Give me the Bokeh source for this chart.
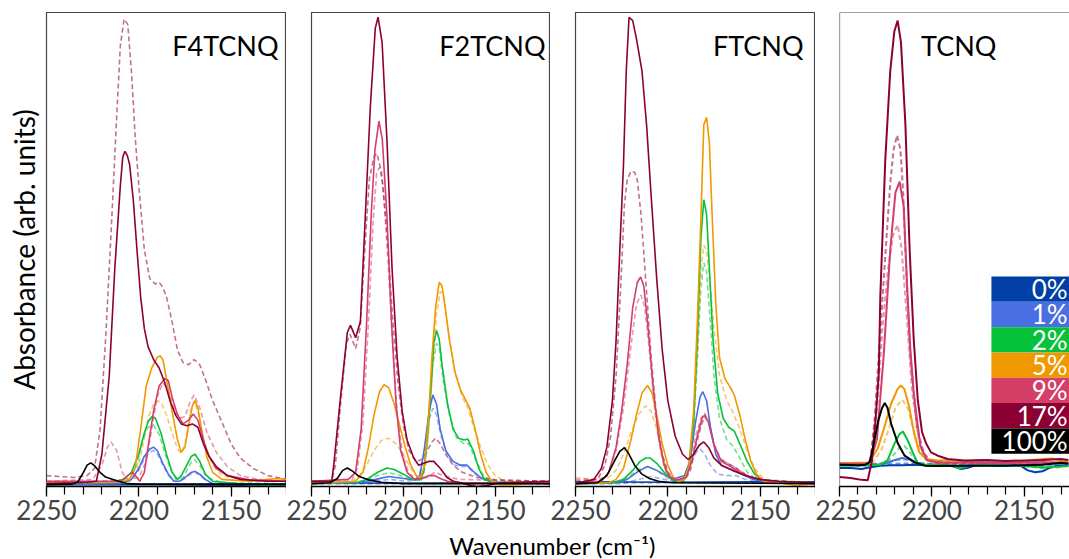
from bokeh.plotting import figure
from bokeh.models import Range1d, FixedTicker, Label, Span
from bokeh.layouts import row, column
from bokeh.embed import file_html
from bokeh.resources import INLINE

# ---------------- data (wavenumber cm-1, absorbance in arb. units) ----------------
panel_names = ["F4TCNQ", "F2TCNQ", "FTCNQ", "TCNQ"]
levels = ["0%", "1%", "2%", "5%", "9%", "17%", "100%"]
level_colors = ["#003fa5", "#4a6fe2", "#06c23a", "#f09800", "#d43f68", "#8c0034", "#000000"]
x_ticks = [2250, 2200, 2150]
x_minor = [2250, 2240, 2230, 2220, 2210, 2200, 2190, 2180, 2170, 2160, 2150, 2140, 2130, 2120]

# ---- F4TCNQ ----
f4_0 = [[2250, 0.4], [2200, 0.4], [2150, 0.3], [2120, 0.3]]
f4_0d = [[2250, 0.6], [2200, 0.5], [2150, 0.5], [2120, 0.5]]
f4_1 = [[2250, 0.4], [2210, 0.6], [2204, 1.5], [2200, 3.8], [2197, 6.4], [2194, 7.9], [2192, 8.3], [2190, 7.6],
        [2187, 4.9], [2184, 2.6], [2181, 1.1], [2178, 1.1], [2175, 1.9], [2172, 2.9], [2169.5, 3.2], [2167, 2.6],
        [2164, 1.5], [2160, 0.6], [2120, 0.4]]
f4_1d = [[2250, 0.5], [2210, 0.6], [2204, 1.4], [2200, 3.4], [2197, 5.9], [2194, 7.3], [2192, 7.6], [2190, 7.0],
         [2187, 4.5], [2184, 2.4], [2181, 1.1], [2178, 1.1], [2175, 1.7], [2172, 2.6], [2169.5, 2.9], [2167, 2.4],
         [2164, 1.4], [2160, 0.6], [2120, 0.5]]
f4_2 = [[2250, 0.8], [2215, 0.9], [2208, 1.5], [2204, 3.0], [2200, 6.8], [2197, 11.3], [2195, 13.6], [2193, 14.7],
        [2191, 14.4], [2188, 11.3], [2185, 6.8], [2182, 3.0], [2179, 1.5], [2177, 2.3], [2174, 4.5], [2171.5, 6.4],
        [2169.5, 6.8], [2167, 5.3], [2164, 2.6], [2160, 1.1], [2140, 0.4], [2120, 0.4]]
f4_2d = [[2250, 0.6], [2205, 1.5], [2201, 4.5], [2198, 9.8], [2195, 12.5], [2192, 12.9], [2189, 11.0], [2186, 7.2],
         [2183, 3.8], [2180, 1.5], [2176, 1.9], [2172, 4.9], [2170, 5.7], [2167, 4.5], [2163, 1.9], [2155, 0.8],
         [2120, 0.6]]
f4_5 = [[2250, 0.8], [2210, 0.9], [2205, 1.5], [2202, 3.8], [2199, 12.1], [2196, 21.2], [2193, 25.0], [2190, 27.2],
        [2188.5, 27.6], [2187, 26.8], [2185, 22.7], [2182, 15.9], [2179, 9.8], [2177, 7.2], [2175, 8.3], [2173, 12.8],
        [2171, 17.0], [2169.5, 18.1], [2168, 16.6], [2166, 12.1], [2163, 6.0], [2160, 3.0], [2155, 1.5], [2140, 1.1],
        [2130, 1.5], [2125, 1.7], [2120, 1.5]]
f4_5d = [[2250, 0.8], [2205, 1.1], [2201, 3.0], [2198, 8.3], [2195, 14.4], [2192, 17.4], [2190, 18.1], [2188, 17.8],
         [2185, 15.1], [2182, 11.3], [2179, 7.9], [2177, 7.0], [2175, 9.0], [2172, 15.9], [2170, 18.1], [2168, 15.9],
         [2165, 9.8], [2160, 4.5], [2155, 2.3], [2140, 1.1], [2120, 1.1]]
f4_9 = [[2250, 1.1], [2210, 1.1], [2206, 2.3], [2203.5, 3.0], [2201, 1.9], [2199.5, 1.1], [2197, 3.0], [2195, 8.3],
        [2192, 15.9], [2189, 21.2], [2186, 22.8], [2184, 22.3], [2182, 18.9], [2179, 15.1], [2176, 13.2], [2173, 14.0],
        [2170.5, 15.3], [2168, 14.0], [2165, 9.8], [2162, 6.4], [2158, 3.8], [2152, 2.3], [2140, 1.4], [2120, 1.1]]
f4_9d = [[2250, 1.1], [2225, 1.5], [2220, 4.5], [2217, 8.3], [2215, 9.4], [2212, 7.6], [2209, 3.0], [2206, 1.5],
         [2200, 1.9], [2196, 5.3], [2193, 12.1], [2190, 18.9], [2187, 21.9], [2184, 20.4], [2181, 16.6], [2178, 14.4],
         [2175, 14.7], [2172, 18.1], [2170, 19.3], [2167, 16.6], [2163, 11.3], [2158, 7.2], [2152, 4.2], [2145, 2.3],
         [2135, 1.5], [2120, 1.1]]
f4_17 = [[2250, 0.6], [2235, 0.8], [2228, 0.9], [2223, 1.1], [2220, 6.8], [2216, 23.4], [2213, 46.0], [2210, 63.5],
         [2208.7, 69.5], [2207.5, 70.7], [2206.2, 69.8], [2205, 68.0], [2203, 60.5], [2201, 50.0], [2199, 40.0],
         [2197, 33.3], [2195, 29.5], [2192, 26.8], [2189, 25.0], [2186, 22.0], [2183, 18.0], [2180, 15.0],
         [2177, 13.2], [2174, 12.8], [2171, 13.2], [2168, 12.5], [2165, 9.0], [2162, 6.4], [2158, 4.2], [2152, 2.3],
         [2145, 1.5], [2130, 1.1], [2120, 1.1]]
f4_17d = [[2250, 2.3], [2235, 1.9], [2228, 2.3], [2224, 3.8], [2221, 12.0], [2218, 31.0], [2215, 53.7], [2212, 77.9],
          [2210, 93.0], [2208, 98.6], [2206, 97.5], [2204, 87.7], [2202, 74.0], [2200, 63.5], [2197, 49.9],
          [2194, 43.8], [2191, 42.7], [2189, 43.1], [2187, 42.0], [2185, 40.0], [2182, 34.8], [2179, 28.7],
          [2176, 26.1], [2173, 25.7], [2170, 26.8], [2167, 25.7], [2164, 22.7], [2160, 18.1], [2155, 13.6],
          [2150, 9.0], [2145, 6.0], [2138, 3.8], [2130, 2.3], [2120, 1.5]]
f4_100 = [[2250, 0.4], [2236, 0.5], [2233, 1.0], [2230, 3.0], [2228, 4.5], [2226, 5.0], [2224, 4.4], [2221, 3.0],
          [2218, 2.0], [2214, 1.5], [2210, 1.0], [2206, 0.6], [2200, 0.5], [2150, 0.5], [2120, 0.5]]

# ---- F2TCNQ ----
f2_0 = [[2250, 0.8], [2200, 0.7], [2150, 0.8], [2120, 0.8]]
f2_0d = [[2250, 0.6], [2200, 0.6], [2150, 0.6], [2120, 0.6]]
f2_1 = [[2250, 0.6], [2225, 0.8], [2215, 1.5], [2208, 2.1], [2200, 1.7], [2194, 1.4], [2191, 2.3], [2188.5, 8.3],
        [2186, 15.9], [2184, 19.3], [2182, 17.4], [2180, 12.1], [2177, 7.6], [2173, 5.3], [2169, 4.5], [2165.5, 4.5],
        [2162, 3.2], [2158, 1.9], [2152, 0.9], [2120, 0.6]]
f2_1d = [[2250, 0.5], [2215, 1.1], [2208, 1.5], [2198, 1.1], [2192, 1.6], [2189, 6.0], [2186.5, 13.6], [2184, 16.5],
         [2182, 15.1], [2179.5, 10.6], [2176, 6.4], [2172, 4.5], [2168, 4.2], [2165, 4.2], [2161, 2.6], [2155, 1.1],
         [2120, 0.5]]
f2_2 = [[2250, 0.8], [2225, 0.9], [2220, 1.5], [2214, 3.0], [2209, 3.9], [2205, 3.6], [2200, 2.6], [2195, 1.5],
        [2191, 1.4], [2189, 3.0], [2187, 10.6], [2185, 21.2], [2183.5, 30.2], [2182, 32.9], [2180.5, 31.0],
        [2179, 25.7], [2176, 17.4], [2173, 12.1], [2170, 10.2], [2167, 9.8], [2165, 10.0], [2162, 7.6], [2159, 3.8],
        [2156, 1.5], [2150, 0.8], [2120, 0.8]]
f2_2d = [[2250, 0.6], [2222, 1.1], [2214, 2.3], [2208, 2.9], [2202, 2.3], [2195, 1.4], [2190, 1.4], [2188, 4.5],
         [2186, 13.6], [2184, 25.7], [2182, 30.2], [2180.5, 29.1], [2178.5, 22.7], [2175, 15.1], [2171, 10.2],
         [2167, 9.0], [2164.5, 9.0], [2161, 6.0], [2157, 2.6], [2152, 1.1], [2120, 0.6]]
f2_5 = [[2250, 0.6], [2226, 1.1], [2222, 3.0], [2219, 8.3], [2216, 15.1], [2213, 20.0], [2210.5, 21.5], [2208, 20.8],
        [2205, 17.4], [2202, 12.8], [2199, 8.3], [2196, 4.5], [2193, 2.3], [2190.5, 1.9], [2188.5, 4.5],
        [2186.5, 13.6], [2184.5, 27.2], [2182.5, 37.8], [2180.5, 43.1], [2179, 42.3], [2177.5, 38.5], [2175, 31.0],
        [2172, 24.2], [2169, 20.4], [2166, 18.1], [2164, 16.6], [2161, 12.1], [2158, 6.8], [2155, 3.0], [2152, 1.1],
        [2148, 0.4], [2140, 0.4], [2120, 0.8]]
f2_5d = [[2250, 0.6], [2228, 1.1], [2224, 2.3], [2220, 4.5], [2216, 7.6], [2212, 9.7], [2208, 10.2], [2204, 9.0],
         [2200, 6.8], [2196, 3.8], [2192, 1.9], [2189, 3.0], [2186.5, 10.6], [2184, 25.7], [2182, 36.3],
         [2180, 41.2], [2178, 40.0], [2175.5, 32.5], [2172, 24.2], [2168, 18.9], [2165, 16.6], [2162, 12.8],
         [2158, 8.3], [2154, 4.5], [2150, 2.3], [2145, 1.1], [2120, 0.8]]
f2_9 = [[2250, 1.1], [2230, 1.5], [2226, 3.0], [2223, 12.1], [2220, 34.8], [2217.5, 57.4], [2215.5, 71.0],
        [2213.3, 77.1], [2211.5, 73.3], [2209, 57.4], [2206.5, 34.8], [2204, 17.4], [2201.5, 7.6], [2198, 3.0],
        [2194, 1.5], [2190, 1.7], [2186, 2.3], [2183, 2.3], [2180, 1.7], [2176, 1.1], [2168, 0.8], [2120, 0.8]]
f2_9d = [[2250, 0.9], [2228, 1.5], [2225, 3.8], [2222, 13.6], [2219, 34.8], [2216.5, 55.9], [2214.5, 66.5],
         [2213, 67.3], [2211, 63.5], [2208.5, 48.4], [2206, 31.0], [2203.5, 15.9], [2200.5, 6.8], [2197, 2.6],
         [2192, 1.5], [2187, 1.9], [2183, 3.0], [2178, 2.3], [2170, 1.5], [2120, 1.1]]
f2_17 = [[2250, 1.1], [2239, 1.1], [2237.9, 4.5], [2234, 19.7], [2230.5, 32.5], [2228.8, 34.0], [2226, 31.4],
         [2223.4, 34.8], [2220.7, 57.4], [2218, 80.1], [2215.3, 96.7], [2213.8, 99.0], [2211.6, 93.7],
         [2208.9, 72.6], [2206.2, 46.1], [2203.4, 27.2], [2200.7, 15.9], [2198, 9.8], [2194.4, 6.0], [2191.7, 4.5],
         [2189, 4.9], [2186.2, 5.3], [2183.5, 5.3], [2179.9, 3.8], [2176.3, 1.9], [2172.7, 1.1], [2169, 0.8],
         [2165.4, 0.4], [2160, 0.0], [2154.5, 0.2], [2147.3, 0.8], [2120, 1.1]]
f2_17d = [[2250, 1.1], [2239, 1.1], [2237, 4.5], [2234, 18.1], [2231, 30.2], [2229, 32.1], [2226, 29.1],
          [2223.5, 33.5], [2221, 49.9], [2218.5, 65.0], [2216, 69.6], [2214.5, 70.3], [2212, 66.5], [2209, 53.7],
          [2206, 36.3], [2203, 21.9], [2200, 12.8], [2197, 7.6], [2193, 5.3], [2190, 5.7], [2187, 7.6],
          [2184.5, 9.4], [2182.5, 10.2], [2180, 9.0], [2177, 6.8], [2173, 4.5], [2168, 3.0], [2160, 1.9],
          [2150, 1.4], [2120, 1.1]]
f2_100 = [[2250, 0.6], [2240, 0.8], [2236, 1.7], [2233, 3.4], [2230.5, 3.9], [2227.5, 3.2], [2224, 2.1],
          [2219, 1.4], [2212, 0.9], [2200, 0.6], [2120, 0.6]]

# ---- FTCNQ ----
f1_0 = [[2250, 1.0], [2200, 0.9], [2150, 1.0], [2120, 1.0]]
f1_0d = [[2250, 0.8], [2200, 0.8], [2150, 0.8], [2120, 0.8]]
f1_1 = [[2250, 0.6], [2228, 0.8], [2222, 1.5], [2216, 3.2], [2211, 4.2], [2206, 3.4], [2201, 2.3], [2196, 1.7],
        [2191, 2.3], [2188, 5.3], [2185, 13.6], [2182.5, 18.9], [2181, 20.0], [2179, 18.1], [2177, 12.8],
        [2174, 6.8], [2171, 4.5], [2167, 3.8], [2164, 3.4], [2160, 2.6], [2154, 1.5], [2145, 0.9], [2120, 0.6]]
f1_1d = [[2250, 0.5], [2225, 0.6], [2216, 1.5], [2209, 2.1], [2202, 1.5], [2195, 1.1], [2190, 2.3], [2187, 5.3],
         [2184.5, 7.3], [2182.5, 7.9], [2180, 6.8], [2177, 4.5], [2173, 2.6], [2168, 2.3], [2163, 2.3],
         [2158, 1.5], [2150, 0.8], [2120, 0.5]]
f1_2 = [[2250, 0.6], [2230, 0.8], [2224, 1.5], [2219, 3.4], [2215, 5.3], [2212, 6.0], [2209.5, 6.0], [2206, 4.9],
        [2202, 3.0], [2198, 1.5], [2194, 1.1], [2191, 1.5], [2188.5, 4.5], [2186, 13.6], [2184, 31.0],
        [2182, 52.9], [2180.5, 60.5], [2179, 57.4], [2177.5, 46.1], [2175.5, 31.0], [2173, 19.7], [2170, 14.4],
        [2167, 12.5], [2164, 11.7], [2161, 9.0], [2157, 5.3], [2153, 2.6], [2148, 1.1], [2120, 0.8]]
f1_2d = [[2250, 0.6], [2228, 0.9], [2222, 1.9], [2216, 3.6], [2211, 4.2], [2207, 3.6], [2202, 2.3], [2197, 1.1],
         [2191, 1.1], [2188.5, 3.8], [2186, 12.1], [2184, 27.2], [2182, 42.3], [2180.5, 47.2], [2179, 45.4],
         [2177, 34.8], [2175, 23.4], [2172, 14.4], [2168, 9.8], [2165, 8.7], [2161, 6.0], [2157, 3.0], [2152, 1.5],
         [2120, 0.8]]
f1_5 = [[2250, 0.6], [2232, 0.8], [2228, 1.5], [2224, 3.8], [2220, 9.8], [2217, 15.1], [2214, 19.7], [2211, 21.3],
        [2208.5, 19.7], [2206, 15.1], [2203, 9.0], [2200, 4.5], [2197, 1.9], [2194, 1.1], [2191, 1.5],
        [2188.5, 4.5], [2186, 15.9], [2184, 34.8], [2182, 57.4], [2180.5, 76.3], [2179, 77.9], [2177.5, 72.6],
        [2176, 57.4], [2174, 38.5], [2172, 27.2], [2169, 22.7], [2166, 20.8], [2164, 19.3], [2161, 15.1],
        [2158, 9.8], [2155, 5.3], [2152, 2.6], [2148, 1.1], [2140, 0.8], [2130, 0.2], [2120, 0.6]]
f1_5d = [[2250, 1.9], [2240, 1.5], [2232, 1.9], [2228, 3.4], [2224, 6.8], [2220, 11.3], [2216, 15.1], [2212, 17.0],
         [2209, 15.9], [2206, 12.1], [2203, 6.8], [2200, 3.0], [2196, 1.4], [2192, 1.4], [2189, 3.8],
         [2186.5, 12.1], [2184, 27.2], [2182, 46.1], [2180.5, 50.9], [2179, 49.9], [2177, 42.3], [2175, 33.3],
         [2172, 23.4], [2168, 18.1], [2165, 15.9], [2161, 12.1], [2157, 7.6], [2153, 3.8], [2148, 1.5],
         [2140, 0.8], [2120, 0.8]]
f1_9 = [[2250, 0.8], [2236, 1.1], [2232, 3.0], [2228, 8.3], [2225, 15.9], [2222, 25.7], [2219, 37.8],
        [2216.5, 43.1], [2214.7, 44.2], [2213, 42.3], [2211, 34.8], [2208, 21.2], [2205, 10.6], [2202, 4.5],
        [2199, 1.9], [2195, 1.4], [2190, 1.9], [2187, 5.3], [2184, 10.6], [2181.5, 14.4], [2180, 15.1],
        [2178, 13.6], [2175, 8.7], [2171, 5.3], [2166, 4.2], [2161, 3.0], [2155, 1.9], [2145, 1.1], [2120, 0.8]]
f1_9d = [[2250, 1.5], [2236, 1.5], [2232, 3.0], [2228, 7.6], [2224, 16.6], [2220, 29.5], [2217, 38.5],
         [2214.5, 40.4], [2212.5, 37.8], [2210, 28.7], [2207, 15.9], [2204, 7.6], [2201, 3.0], [2197, 1.1],
         [2192, 1.5], [2188, 4.5], [2185, 10.6], [2182, 14.4], [2180, 15.5], [2178, 13.6], [2175, 9.0],
         [2171, 5.7], [2166, 4.5], [2161, 3.4], [2155, 1.9], [2145, 1.1], [2120, 0.8]]
f1_17 = [[2250, 0.6], [2240, 1.5], [2236, 3.8], [2233, 8.3], [2230, 18.1], [2228, 31.0], [2226, 49.9],
         [2224, 68.0], [2222.5, 87.7], [2221, 99.0], [2219, 98.3], [2217, 94.5], [2214, 87.7], [2211.5, 76.3],
         [2209, 61.2], [2206, 43.8], [2203, 28.7], [2200, 18.1], [2196, 10.6], [2192, 6.8], [2189, 5.7],
         [2186, 6.8], [2183, 8.7], [2180.5, 9.4], [2178, 8.3], [2175, 6.0], [2171, 4.5], [2165, 3.4], [2158, 2.3],
         [2150, 1.5], [2140, 1.1], [2120, 0.8]]
f1_17d = [[2250, 1.1], [2238, 1.5], [2234, 4.5], [2231, 10.6], [2228, 23.4], [2225.5, 42.3], [2223.5, 59.5],
          [2222, 64.6], [2220, 66.5], [2218, 66.3], [2216.5, 64.6], [2214.5, 57.4], [2212, 43.8], [2209, 27.2],
          [2206, 14.4], [2203, 6.8], [2200, 3.0], [2196, 1.1], [2192, 1.1], [2188, 3.0], [2185, 8.3], [2182, 12.8],
          [2180, 14.7], [2178, 13.6], [2175, 9.0], [2172, 6.0], [2168, 4.9], [2164, 4.2], [2160, 3.0],
          [2155, 1.9], [2145, 1.1], [2120, 0.9]]
f1_100 = [[2250, 0.6], [2238, 0.8], [2233, 2.3], [2229, 5.3], [2226, 7.4], [2223.5, 8.2], [2221, 6.8],
          [2218, 4.5], [2214, 2.6], [2210, 1.7], [2205, 1.1], [2198, 0.8], [2120, 0.6]]

# ---- TCNQ ----
t_0 = [[2250, 3.9], [2244, 3.9], [2238, 3.7], [2234, 4.0], [2228, 4.4], [2222, 4.5], [2216, 4.5], [2210, 4.6],
       [2204, 4.5], [2198, 4.6], [2192, 4.5], [2188, 4.2], [2184, 3.7], [2180, 4.0], [2176, 4.5], [2170, 4.6],
       [2164, 4.4], [2158, 4.5], [2152, 4.4], [2148, 3.4], [2144, 3.0], [2140, 3.2], [2136, 4.0], [2132, 4.4],
       [2126, 4.5]]
t_0d = [[2250, 4.6], [2240, 4.4], [2230, 4.6], [2220, 4.8], [2210, 4.9], [2200, 4.7], [2190, 4.8], [2180, 4.6],
        [2170, 4.9], [2160, 4.7], [2150, 4.3], [2140, 4.1], [2130, 4.5], [2126, 4.6]]
t_1 = [[2250, 4.6], [2235, 4.5], [2228, 4.7], [2224, 5.0], [2220, 5.6], [2216, 6.0], [2212, 5.7], [2208, 5.0],
       [2204, 4.6], [2195, 4.5], [2185, 4.4], [2170, 4.8], [2160, 4.7], [2150, 4.6], [2140, 4.9], [2130, 4.8],
       [2126, 4.7]]
t_1d = [[2250, 4.9], [2235, 4.8], [2228, 4.9], [2224, 5.1], [2220, 5.5], [2216, 5.7], [2212, 5.5], [2208, 5.0],
        [2204, 4.8], [2195, 4.8], [2185, 4.6], [2170, 4.9], [2160, 4.8], [2150, 4.5], [2140, 4.6], [2130, 4.9],
        [2126, 4.8]]
t_2 = [[2250, 4.4], [2235, 4.5], [2228, 4.6], [2224, 5.5], [2220.3, 9.0], [2217.4, 11.1], [2215.6, 11.6],
       [2213, 9.7], [2210.3, 7.2], [2207.7, 4.9], [2204, 4.6], [2195, 4.5], [2188, 4.3], [2185, 3.8], [2180, 4.3],
       [2170, 4.5], [2160, 4.4], [2150, 4.3], [2140, 4.0], [2130, 4.2], [2126, 4.3]]
t_2d = [[2250, 4.6], [2228, 4.7], [2224, 5.2], [2220, 7.0], [2217, 8.4], [2215, 8.6], [2213, 7.8], [2210, 6.2],
        [2207, 5.0], [2200, 4.7], [2180, 4.6], [2150, 4.4], [2140, 3.8], [2130, 4.1], [2126, 4.4]]
t_5 = [[2250, 4.9], [2240, 5.0], [2234.7, 5.0], [2232.9, 5.8], [2229.3, 8.0], [2225.7, 12.5], [2222.1, 17.4],
       [2218.5, 20.6], [2216.7, 21.3], [2214.9, 20.6], [2212.2, 16.7], [2209.5, 11.1], [2206.8, 7.2],
       [2203.1, 5.8], [2196.8, 5.5], [2190, 5.6], [2182, 5.3], [2175, 5.5], [2165, 5.4], [2156, 5.2], [2150, 5.3],
       [2145, 5.6], [2140, 5.8], [2135, 5.9], [2130, 5.5], [2126, 5.3]]
t_5d = [[2250, 4.6], [2234, 4.7], [2231, 5.5], [2227, 8.0], [2223, 12.5], [2219.5, 16.8], [2216, 18.3],
        [2213, 16.5], [2210, 12.0], [2207, 8.0], [2204, 6.0], [2198, 5.2], [2180, 5.0], [2150, 5.0], [2126, 5.0]]
t_9 = [[2250, 4.8], [2236, 4.8], [2233.3, 5.2], [2229.7, 10.0], [2226.1, 27.4], [2222.5, 50.0], [2219.7, 62.0],
       [2217.4, 64.3], [2215.2, 59.0], [2213.4, 42.5], [2211.6, 28.9], [2209.8, 19.8], [2206.2, 8.5],
       [2202.5, 5.5], [2195, 5.0], [2180, 5.1], [2160, 5.0], [2140, 5.1], [2126, 5.0]]
t_9d = [[2250, 4.8], [2235, 4.8], [2233, 6.0], [2229.5, 17.0], [2226.8, 33.0], [2224, 45.0], [2221, 53.0],
        [2218.5, 55.2], [2216.3, 50.0], [2213.4, 35.0], [2210.7, 20.0], [2207, 9.8], [2203.4, 5.7], [2199, 5.0],
        [2180, 5.0], [2126, 5.0]]
t_17 = [[2250, 2.0], [2244, 1.8], [2238, 1.4], [2234.7, 1.3], [2232.4, 5.5], [2230.5, 13.9], [2228.7, 24.0],
        [2227.9, 40.0], [2226.5, 55.0], [2225.2, 68.9], [2222.5, 87.7], [2220.3, 96.0], [2218.5, 98.3],
        [2216.7, 93.7], [2214.3, 76.4], [2212, 50.0], [2209.8, 31.1], [2207.6, 18.3], [2205.3, 11.5], [2203, 9.0],
        [2200.4, 7.2], [2196.8, 6.5], [2191.4, 5.8], [2182.4, 5.5], [2170, 5.6], [2160, 5.4], [2150, 5.5],
        [2140, 5.6], [2130, 5.8], [2126, 5.6]]
t_17d = [[2250, 4.6], [2240, 4.5], [2235, 4.6], [2233.3, 5.5], [2231, 14.0], [2228.8, 27.4], [2226.5, 41.0],
         [2224.3, 53.8], [2222.5, 64.0], [2220.7, 71.1], [2218.8, 74.1], [2217, 71.1], [2215.5, 62.0],
         [2214.3, 50.0], [2213, 38.0], [2211.6, 27.4], [2208, 12.3], [2204.3, 7.0], [2200.7, 5.5], [2190, 5.0],
         [2170, 5.0], [2150, 5.1], [2126, 5.0]]
t_100 = [[2250, 4.6], [2240, 4.5], [2236, 4.6], [2233.7, 5.1], [2231.8, 8.3], [2229, 13.9], [2227, 16.5],
         [2225.5, 17.6], [2224, 16.6], [2222, 13.2], [2218.3, 9.0], [2214.7, 6.5], [2209.2, 5.1], [2203.8, 4.4],
         [2198, 4.3], [2180, 4.4], [2160, 4.4], [2140, 4.6], [2130, 5.0], [2126, 4.8]]

panel_solid = [
    [f4_0, f4_1, f4_2, f4_5, f4_9, f4_17, f4_100],
    [f2_0, f2_1, f2_2, f2_5, f2_9, f2_17, f2_100],
    [f1_0, f1_1, f1_2, f1_5, f1_9, f1_17, f1_100],
    [t_0, t_1, t_2, t_5, t_9, t_17, t_100],
]
panel_dashed = [
    [f4_0d, f4_1d, f4_2d, f4_5d, f4_9d, f4_17d],
    [f2_0d, f2_1d, f2_2d, f2_5d, f2_9d, f2_17d],
    [f1_0d, f1_1d, f1_2d, f1_5d, f1_9d, f1_17d],
    [t_0d, t_1d, t_2d, t_5d, t_9d, t_17d],
]

# ---------------- layout ----------------
FONT = "Lato"
H = 530
TOP = 12
BOTTOM = 44
fig_w = [286, 264, 265, 254]
border_l = [46, 25, 25, 24]
x_end = [2120, 2120, 2120, 2125.4]
title_x = [2124.3, 2122.7, 2126.5, 2165.0]
title_y = 93.0
line_w = [1.6, 1.6, 1.6, 2.0]

figs = []
for i in range(4):
    p = figure(width=fig_w[i], height=H, output_backend="svg", toolbar_location=None,
               x_range=Range1d(2250, x_end[i]), y_range=Range1d(0, 100),
               min_border_left=border_l[i], min_border_right=0, min_border_top=TOP,
               min_border_bottom=BOTTOM, background_fill_color="white", border_fill_color="white")
    p.grid.visible = False
    if i == 3:
        p.outline_line_color = None
        p.add_layout(Span(location=2250, dimension="height", line_color="#444444", line_width=1.2))
        p.add_layout(Span(location=100, dimension="width", line_color="#444444", line_width=1.2))
    else:
        p.outline_line_color = "#444444"
        p.outline_line_width = 1.2
    # x axis
    ax = p.xaxis[0]
    ax.ticker = FixedTicker(ticks=x_ticks, minor_ticks=x_minor)
    ax.axis_line_color = "black"
    ax.axis_line_width = 1.5
    ax.major_tick_line_color = "black"
    ax.minor_tick_line_color = "black"
    ax.major_tick_line_width = 1.2
    ax.minor_tick_line_width = 1.2
    ax.major_tick_in = 0
    ax.major_tick_out = 10
    ax.minor_tick_in = 0
    ax.minor_tick_out = 8
    ax.major_label_text_font = FONT
    ax.major_label_text_font_size = "26px"
    ax.major_label_text_color = "#444444"
    ax.major_label_standoff = 3
    # y axis
    if i == 0:
        ya = p.yaxis[0]
        ya.ticker = FixedTicker(ticks=[])
        ya.axis_line_color = None
        ya.major_tick_line_color = None
        ya.minor_tick_line_color = None
        ya.major_label_text_font_size = "0px"
        ya.axis_label = "Absorbance (arb. units)"
        ya.axis_label_text_font = FONT
        ya.axis_label_text_font_size = "28px"
        ya.axis_label_text_font_style = "normal"
        ya.axis_label_text_color = "black"
        ya.axis_label_standoff = 6
    else:
        p.yaxis.visible = False

    # dashed series first, then solid
    for j, pts in enumerate(panel_dashed[i]):
        xs = [a for a, b in pts]
        ys = [b for a, b in pts]
        p.line(xs, ys, line_color=level_colors[j], line_alpha=0.55, line_width=line_w[i], line_dash="5 3")
    for j, pts in enumerate(panel_solid[i]):
        xs = [a for a, b in pts]
        ys = [b for a, b in pts]
        p.line(xs, ys, line_color=level_colors[j], line_width=line_w[i])

    p.add_layout(Label(x=title_x[i], y=title_y, text=panel_names[i], text_align="right",
                       text_baseline="middle", text_font=FONT, text_font_size="27px", text_color="black"))
    figs.append(p)

# legend inside TCNQ panel
p4 = figs[3]
leg_left = 2167.7
leg_top = 44.3
leg_step = 5.34
for k, (lab, col) in enumerate(zip(levels, level_colors)):
    top = leg_top - k * leg_step
    p4.quad(left=leg_left, right=2100, top=top, bottom=top - leg_step, fill_color=col, line_color=None)
    p4.add_layout(Label(x=2126.4, y=top - leg_step / 2, text=lab, text_align="right", text_baseline="middle",
                        text_font=FONT, text_font_size="26px", text_color="white"))

# x label strip
STRIP_H = 559 - H
plab = figure(width=1069, height=STRIP_H, output_backend="svg", toolbar_location=None,
              x_range=Range1d(0, 1069), y_range=Range1d(0, STRIP_H), min_border=0,
              outline_line_color=None, background_fill_color="white", border_fill_color="white")
plab.axis.visible = False
plab.grid.visible = False
plab.add_layout(Label(x=552, y=STRIP_H / 2, text="Wavenumber (cm\u207b\u00b9)", text_align="center",
                      text_baseline="middle", text_font=FONT, text_font_size="24px", text_color="black"))

layout = column(row(*figs), plab)
open("out.html", "w").write(file_html(layout, INLINE))
